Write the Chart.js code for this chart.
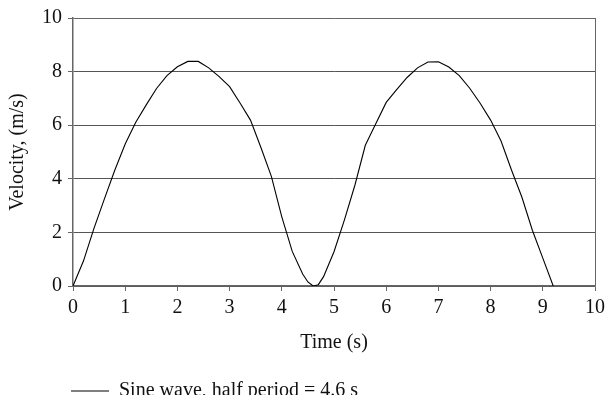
<!DOCTYPE html>
<html>
<head>
<meta charset="utf-8">
<script src="https://cdn.jsdelivr.net/npm/chart.js@4/dist/chart.umd.min.js"></script>
<style>
  html, body { margin: 0; padding: 0; background: #fff; }
  #wrap { width: 610px; height: 407px; }
</style>
</head>
<body>
<div id="wrap"><canvas id="c" width="610" height="407"></canvas></div>
<script>
// ---- data ----
const times = [0, 0.2, 0.4, 0.6, 0.8, 1.0, 1.2, 1.4, 1.6, 1.8, 2.0, 2.2, 2.4, 2.6, 2.8, 3.0, 3.2, 3.4, 3.6, 3.8, 4.0, 4.2, 4.4, 4.5, 4.6, 4.7, 4.8, 5.0, 5.2, 5.4, 5.6, 5.8, 6.0, 6.2, 6.4, 6.6, 6.8, 7.0, 7.2, 7.4, 7.6, 7.8, 8.0, 8.2, 8.4, 8.6, 8.8, 9.0, 9.2];
const velocity = [0, 0.93, 2.14, 3.24, 4.32, 5.30, 6.10, 6.75, 7.37, 7.85, 8.18, 8.38, 8.38, 8.14, 7.81, 7.44, 6.83, 6.19, 5.17, 4.09, 2.58, 1.29, 0.45, 0.15, 0.0, 0.05, 0.35, 1.28, 2.47, 3.76, 5.25, 6.05, 6.85, 7.33, 7.78, 8.14, 8.36, 8.37, 8.17, 7.85, 7.38, 6.82, 6.19, 5.41, 4.33, 3.31, 2.08, 1.04, 0.0];
const seriesLabel = 'Sine wave, half period = 4.6 s';
const xTitle = 'Time (s)';
const yTitle = 'Velocity, (m/s)';
const xTicks = [0, 1, 2, 3, 4, 5, 6, 7, 8, 9, 10];
const yTicks = [0, 2, 4, 6, 8, 10];

const points = times.map((t, i) => ({ x: t, y: velocity[i] }));

const FONT = "'Liberation Serif', 'Times New Roman', serif";
const GRID = '#555555';
const AXIS = '#666666';

const legendPlace = {
  id: 'legendPlace',
  afterLayout(chart) {
    const lg = chart.legend;
    if (!lg) return;
    lg.left = 61;
    lg.top = 371;
  }
};

new Chart(document.getElementById('c'), {
  type: 'line',
  data: {
    datasets: [{
      label: seriesLabel,
      data: points,
      borderColor: '#000000',
      backgroundColor: '#000000',
      borderWidth: 1.1,
      pointRadius: 0,
      pointStyle: 'line',
      tension: 0,
      fill: false
    }]
  },
  options: {
    responsive: false,
    animation: false,
    devicePixelRatio: 1,
    layout: { padding: { left: 0, right: 12, top: 15, bottom: 12 } },
    plugins: {
      legend: {
        display: true,
        position: 'bottom',
        align: 'start',
        labels: {
          usePointStyle: true,
          pointStyle: 'line',
          pointStyleWidth: 38,
          color: '#111',
          padding: 10,
          font: { family: FONT, size: 20 }
        }
      },
      tooltip: { enabled: false }
    },
    scales: {
      x: {
        type: 'linear',
        min: 0,
        max: 10,
        afterBuildTicks(scale) { scale.ticks = xTicks.map(v => ({ value: v })); },
        ticks: {
          color: '#111',
          padding: 5,
          maxRotation: 0,
          font: { family: FONT, size: 20 },
          callback: v => String(v)
        },
        grid: {
          display: true,
          drawTicks: true,
          tickLength: 5,
          tickColor: AXIS,
          color: ctx => (ctx.tick && ctx.tick.value === 10 ? AXIS : 'rgba(0,0,0,0)'),
          lineWidth: 1
        },
        border: { display: true, color: AXIS, width: 1.5 },
        title: {
          display: true,
          text: xTitle,
          color: '#111',
          font: { family: FONT, size: 20 },
          padding: { top: 6, bottom: 0 }
        }
      },
      y: {
        type: 'linear',
        min: 0,
        max: 10,
        afterBuildTicks(scale) { scale.ticks = yTicks.map(v => ({ value: v })); },
        afterFit(scale) { scale.width = 73; },
        ticks: {
          color: '#111',
          padding: 6,
          font: { family: FONT, size: 20 },
          callback: v => String(v)
        },
        grid: {
          display: true,
          drawTicks: true,
          tickLength: 5,
          tickColor: AXIS,
          color: ctx => (ctx.tick && ctx.tick.value === 10 ? AXIS : GRID),
          lineWidth: 1
        },
        border: { display: true, color: AXIS, width: 1.5 },
        title: {
          display: true,
          text: yTitle,
          color: '#111',
          font: { family: FONT, size: 20 },
          padding: { top: 6, bottom: 0 }
        }
      }
    }
  },
  plugins: [legendPlace]
});
</script>
</body>
</html>
